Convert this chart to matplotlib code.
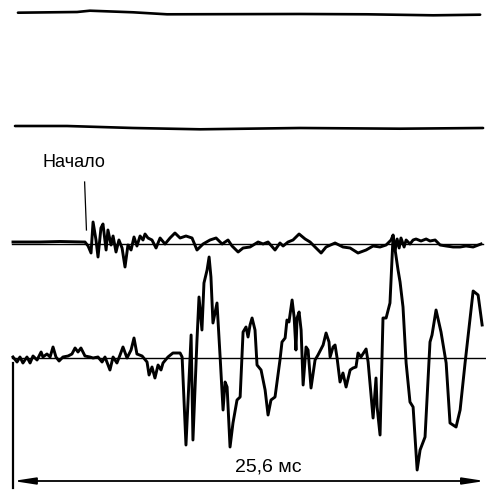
import numpy as np
import matplotlib
matplotlib.use("Agg")
import matplotlib.pyplot as plt

# время, мс (25,6 мс на всю развертку)
top1_t = [0.27, 3.49, 4.19, 6.54, 8.39, 15.63, 19.28, 22.88, 25.44]
top1_a = [-0.2, 0.5, 1.8, 0.2, -1.8, -1.5, -1.8, -2.8, -2.2]

top2_t = [0.11, 2.94, 6.54, 10.19, 15.63, 21.08, 25.60]
top2_a = [1.5, 1.5, -0.5, -1.8, -0.5, -1.2, -0.5]

# третья дорожка
tr3_t = [0.00, 1.47, 2.56, 3.81, 3.92, 4.09, 4.25, 4.36, 4.52, 4.63, 4.79, 4.90,
         5.07, 5.17, 5.34, 5.45, 5.61, 5.77, 5.94, 6.10, 6.26, 6.43, 6.59, 6.75,
         6.92, 7.08, 7.19, 7.35, 7.57, 7.79, 8.01, 8.28, 8.55, 8.82, 9.10, 9.42,
         9.75, 10.02, 10.35, 10.73, 11.06, 11.39, 11.71, 11.93, 12.26, 12.53,
         12.91, 13.35, 13.62, 13.89, 14.27, 14.54, 14.71, 14.98, 15.25, 15.58,
         15.91, 16.18, 16.45, 16.78, 17.05, 17.54, 17.97, 18.36, 18.79, 19.23,
         19.61, 19.99, 20.32, 20.59, 20.70, 20.81, 20.92, 21.03, 21.13, 21.30,
         21.41, 21.62, 21.79, 21.95, 22.22, 22.50, 22.71, 22.99, 23.26, 23.59,
         23.97, 24.35, 24.67, 25.06, 25.49]
tr3_a = [1.5, 1.5, 2, 1.5, 1.5, -2.5, -9.5, 21.5, 3.5, -13.5, 15.5, 19.5,
         -6.5, 13.5, -1.5, 7.5, -8.5, 3.5, -4.5, -23.5, -1.5, -6.5, 6.5, -2.5,
         7.5, 3.5, 9.5, 5.5, 3.5, -4.5, 5.5, -0.5, 5.5, 10.5, 5.5, 7.5,
         5.5, -6.5, -0.5, 3.5, 5.5, -0.5, 3.5, -2.5, -8.5, -4.5,
         -3.5, 1.5, -0.5, 1.5, -6.5, 0.5, -2.5, 1.5, 3.5, 9.5,
         4.5, 1.5, -3.5, -9.5, -3.5, 0.5, -3.5, -4.5, -9.5, -6.5,
         -2.5, -3.5, -1.5, 3.5, 8.5, -6.5, 4.5, -4.5, 5.5, -3.5,
         3.5, -0.5, 3.5, 4.5, 2.5, 4.5, 2.5, 3.5, -1.5, -2.5,
         -3.5, -3.5, -2.5, -3.5, -0.5]

# четвертая дорожка
tr4_t = [0.00, 0.22, 0.38, 0.54, 0.76, 0.93, 1.09, 1.31, 1.53, 1.63, 1.85, 2.02,
         2.18, 2.34, 2.51, 2.72, 3.00, 3.21, 3.38, 3.54, 3.70, 3.92, 4.19, 4.36,
         4.63, 4.85, 5.01, 5.28, 5.45, 5.66, 5.83, 5.99, 6.21, 6.43, 6.59, 6.75,
         7.03, 7.30, 7.41, 7.57, 7.73, 7.90, 8.06, 8.17, 8.44, 8.71, 9.10, 9.21,
         9.42, 9.70, 9.80, 10.02, 10.13, 10.29, 10.40, 10.57, 10.68, 10.78, 10.89,
         11.11, 11.28, 11.44, 11.55, 11.66, 11.82, 11.98, 12.20, 12.37, 12.53,
         12.69, 12.80, 12.91, 13.02, 13.18, 13.29, 13.51, 13.73, 13.89, 14.05,
         14.27, 14.54, 14.65, 14.82, 14.92, 15.03, 15.20, 15.31, 15.41, 15.47,
         15.58, 15.69, 15.80, 15.96, 16.07, 16.23, 16.45, 16.61, 16.89, 17.05,
         17.21, 17.27, 17.43, 17.54, 17.65, 17.81, 17.97, 18.14, 18.36, 18.52,
         18.68, 18.79, 18.95, 19.23, 19.34, 19.61, 19.77, 19.83, 19.99, 20.15,
         20.32, 20.53, 20.70, 20.81, 20.97, 21.08, 21.24, 21.41, 21.62, 21.79,
         22.01, 22.17, 22.44, 22.71, 22.82, 23.04, 23.31, 23.59, 23.80, 24.13,
         24.35, 24.62, 25.06, 25.33, 25.55]
tr4_a = [0.5, -4.5, 0.5, -5.5, 0.5, -5.5, 1.5, -2.5, 5.5, 0.5, 3.5, 0.5,
         10.5, 0.5, -3.5, 0.5, 1.5, 3.5, 9.5, 5.5, 9.5, 1.5, 0.5, -0.5,
         0.5, -4.5, 0.5, -12.5, 0.5, -5.5, 2.5, 10.5, -0.5, 7.5, 19.5, 3.5,
         1.5, -4.5, -17.5, -9.5, -20.5, -7.5, -12.5, -5.5, 0.5, 4.5, 4.5, 0.5,
         -87.5, 22.5, -82.5, 17.5, 60.5, 27.5, 74.5, 87.5, 100.5, 80.5, 34.5,
         54.5, 0.5, -52.5, -24.5, -29.5, -89.5, -65.5, -42.5, -39.5, 25.5,
         30.5, 20.5, 32.5, 39.5, 27.5, -7.5, -12.5, -32.5, -57.5, -42.5,
         -39.5, -2.5, 15.5, 19.5, 37.5, 35.5, 57.5, 40.5, 7.5, 39.5,
         45.5, 27.5, -27.5, 10.5, 7.5, -30.5, -2.5, 2.5, 12.5, 24.5,
         15.5, 0.5, 10.5, 12.5, -0.5, -24.5, -15.5, -29.5, -12.5, -10.5,
         -9.5, 4.5, 0.5, 8.5, -4.5, -60.5, -20.5, -49.5, -77.5, 39.5,
         39.5, 54.5, 121.5, 107.5, 87.5, 75.5, 50.5, -5.5, -44.5, -49.5,
         -112.5, -92.5, -79.5, 15.5, 22.5, 47.5, 25.5, -5.5, -65.5, -69.5,
         -52.5, -5.5, 66.5, 62.5, 32.5]

span_ms = 25.6
span_label = "25,6 мс"
start_label = "Начало"
start_ms = 4.0

# уровни нулевых линий (сверху вниз)
levels = [12.5, 127.5, 243.5, 357.5]

fig = plt.figure(figsize=(4.86, 4.93), dpi=100)
ax = fig.add_axes([0, 0, 1, 1])
ax.set_xlim(-0.708, 25.76)
ax.set_ylim(493, 0)
ax.axis("off")

ink = "black"
ax.plot(top1_t, levels[0] - np.array(top1_a), color=ink, lw=1.9, solid_capstyle="round")
ax.plot(top2_t, levels[1] - np.array(top2_a), color=ink, lw=1.9, solid_capstyle="round")

# нулевые линии
ax.plot([-0.05, 25.6], [levels[2], levels[2]], color=ink, lw=1.0)
ax.plot([-0.05, 25.76], [levels[3], levels[3]], color=ink, lw=1.0)

ax.plot(tr3_t, levels[2] - np.array(tr3_a), color=ink, lw=2.1, solid_joinstyle="round")
ax.plot(tr4_t, levels[3] - np.array(tr4_a), color=ink, lw=2.1, solid_joinstyle="round")

# отметка начала
ax.plot([start_ms - 0.1, start_ms], [182, 230], color=ink, lw=0.9)
ax.text(1.63, 167, start_label, fontsize=13, family="Liberation Sans", ha="left", va="baseline")

# шкала времени
ax.plot([0, 0], [363, 488], color=ink, lw=1.6)
ax.annotate("", xy=(span_ms + 0.1, 481), xytext=(0, 481),
            arrowprops=dict(arrowstyle="<|-|>,head_length=1.3,head_width=0.2",
                            color=ink, lw=1.3, shrinkA=0, shrinkB=0))
ax.text(13.9, 472, span_label, fontsize=14, family="Liberation Sans", ha="center", va="baseline")

fig.savefig("out.png", dpi=100)
